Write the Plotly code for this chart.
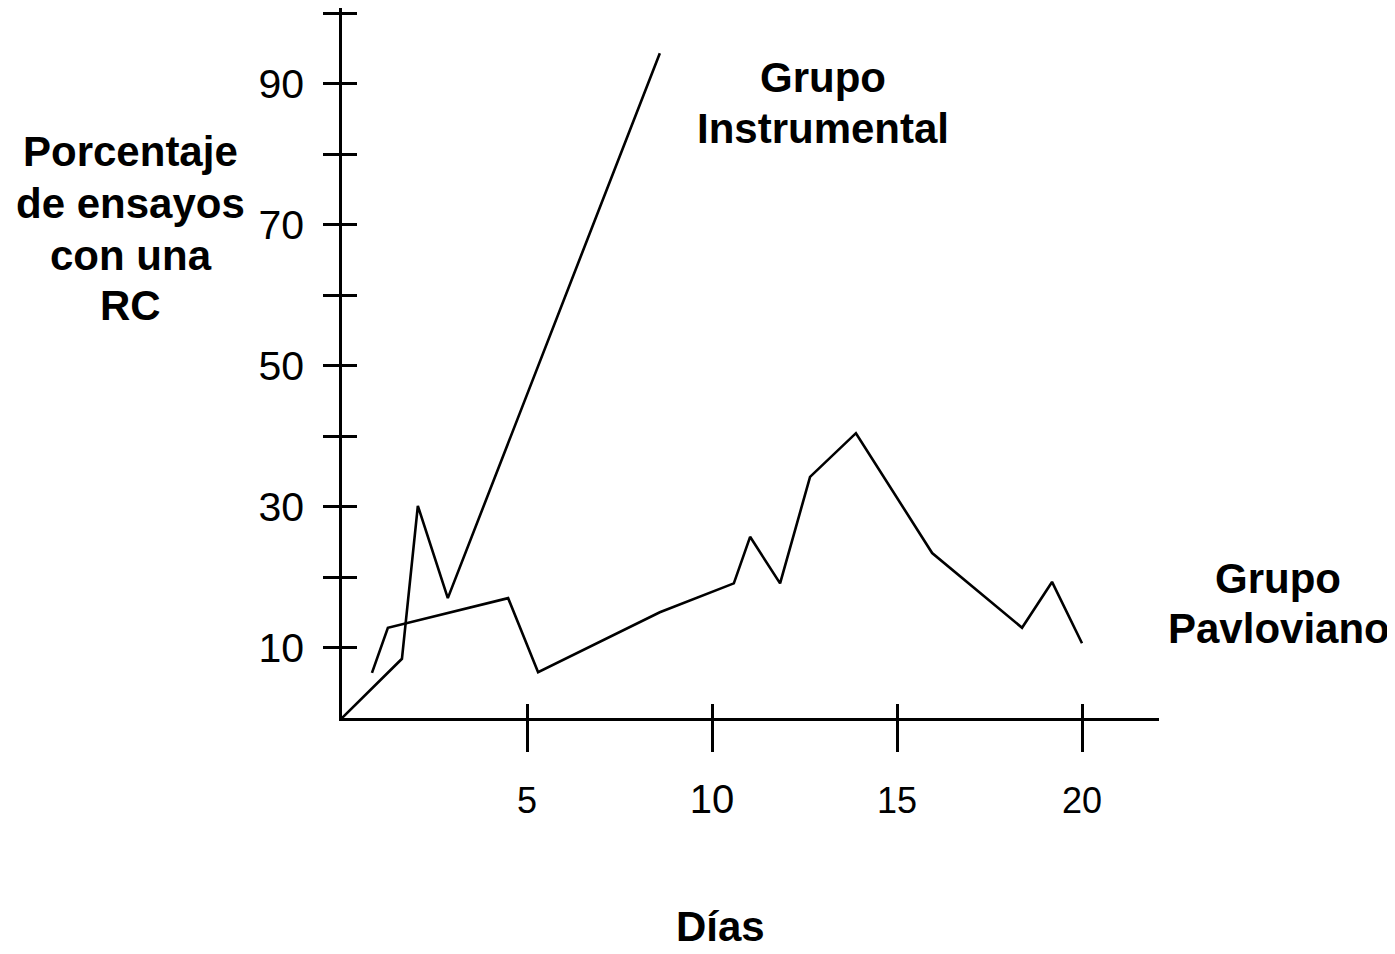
import plotly.graph_objects as go

# ---- data ----
dias_instrumental = [0.0, 1.62, 2.05, 2.86, 8.59]
pct_instrumental = [0.0, 8.4, 30.1, 17.0, 94.3]

dias_pavloviano = [0.81, 1.24, 4.49, 5.30, 8.59, 10.59, 11.03, 11.84, 12.65,
                   13.89, 15.95, 18.38, 19.19, 20.0]
pct_pavloviano = [6.4, 12.8, 17.0, 6.5, 15.0, 19.1, 25.7, 19.1, 34.2,
                  40.4, 23.4, 12.8, 19.3, 10.6]

x_tickvals = [5, 10, 15, 20]
x_ticktext = ["5", "<span style='font-size:40px'>10</span>", "15", "20"]
y_tickvals = [10, 20, 30, 40, 50, 60, 70, 80, 90, 100]
y_ticktext = ["10", "", "30", "", "50", "", "70", "", "90", ""]

# ---- layout geometry (page body has an 8px margin) ----
OFF = 8
W, H = 1395 - OFF, 954 - OFF
L, R, T, B = 342 - OFF, 1159 - OFF, 8 - OFF, 718 - OFF
X_RANGE = [0, (R - L) / 37.0]
Y_RANGE = [0, (B - T) / 7.05]
FONT = "Liberation Sans, Arial, sans-serif"


def px2paper(px, py):
    """convert a reference-pixel position to paper coordinates"""
    return (px - OFF - L) / (R - L), (B - (py - OFF)) / (B - T)


fig = go.Figure()
fig.add_trace(go.Scatter(x=dias_instrumental, y=pct_instrumental, mode="lines",
                         line=dict(color="black", width=2.6), name="Grupo Instrumental",
                         xaxis="x", yaxis="y"))
fig.add_trace(go.Scatter(x=dias_pavloviano, y=pct_pavloviano, mode="lines",
                         line=dict(color="black", width=2.6), name="Grupo Pavloviano",
                         xaxis="x2", yaxis="y2"))

axis_common = dict(showgrid=False, zeroline=False, tickcolor="black", tickwidth=2.5)

fig.update_layout(
    width=W, height=H,
    margin=dict(l=L, r=W - R, t=T, b=H - B, pad=0),
    paper_bgcolor="white", plot_bgcolor="white",
    showlegend=False,
    font=dict(family=FONT, color="black"),
    xaxis=dict(range=X_RANGE, showline=True, linecolor="black", linewidth=2.6,
               ticks="outside", ticklen=31, tickvals=x_tickvals, ticktext=x_ticktext,
               tickfont=dict(size=36, family=FONT, color="black"),
               ticklabelstandoff=18, **axis_common),
    yaxis=dict(range=Y_RANGE, showline=True, linecolor="black", linewidth=2.6,
               ticks="outside", ticklen=16, tickvals=y_tickvals, ticktext=y_ticktext,
               tickfont=dict(size=41, family=FONT, color="black"),
               ticklabelstandoff=11, **axis_common),
    xaxis2=dict(range=X_RANGE, overlaying="x", anchor="y2", side="bottom",
                showline=False, ticks="inside", ticklen=14, tickvals=x_tickvals,
                showticklabels=False, **axis_common),
    yaxis2=dict(range=Y_RANGE, overlaying="y", anchor="x2", side="left",
                showline=False, ticks="inside", ticklen=15, tickvals=y_tickvals,
                showticklabels=False, **axis_common),
)

bold = dict(family=FONT, size=42, color="black", weight="bold")
labels = [
    ("Porcentaje", 131, 152),
    ("de ensayos", 131, 204),
    ("con una", 131, 256),
    ("RC", 131, 305),
    ("Grupo", 823, 78),
    ("Instrumental", 823, 128),
    ("Grupo", 1278, 578),
    ("Pavloviano", 1279, 628),
    ("Días", 720, 926),
]
for text, px, py in labels:
    ax, ay = px2paper(px, py)
    fig.add_annotation(text=text, x=ax, y=ay, xref="paper", yref="paper",
                       xanchor="center", yanchor="middle", showarrow=False,
                       font=bold, align="center")

fig.write_html("out.html")
